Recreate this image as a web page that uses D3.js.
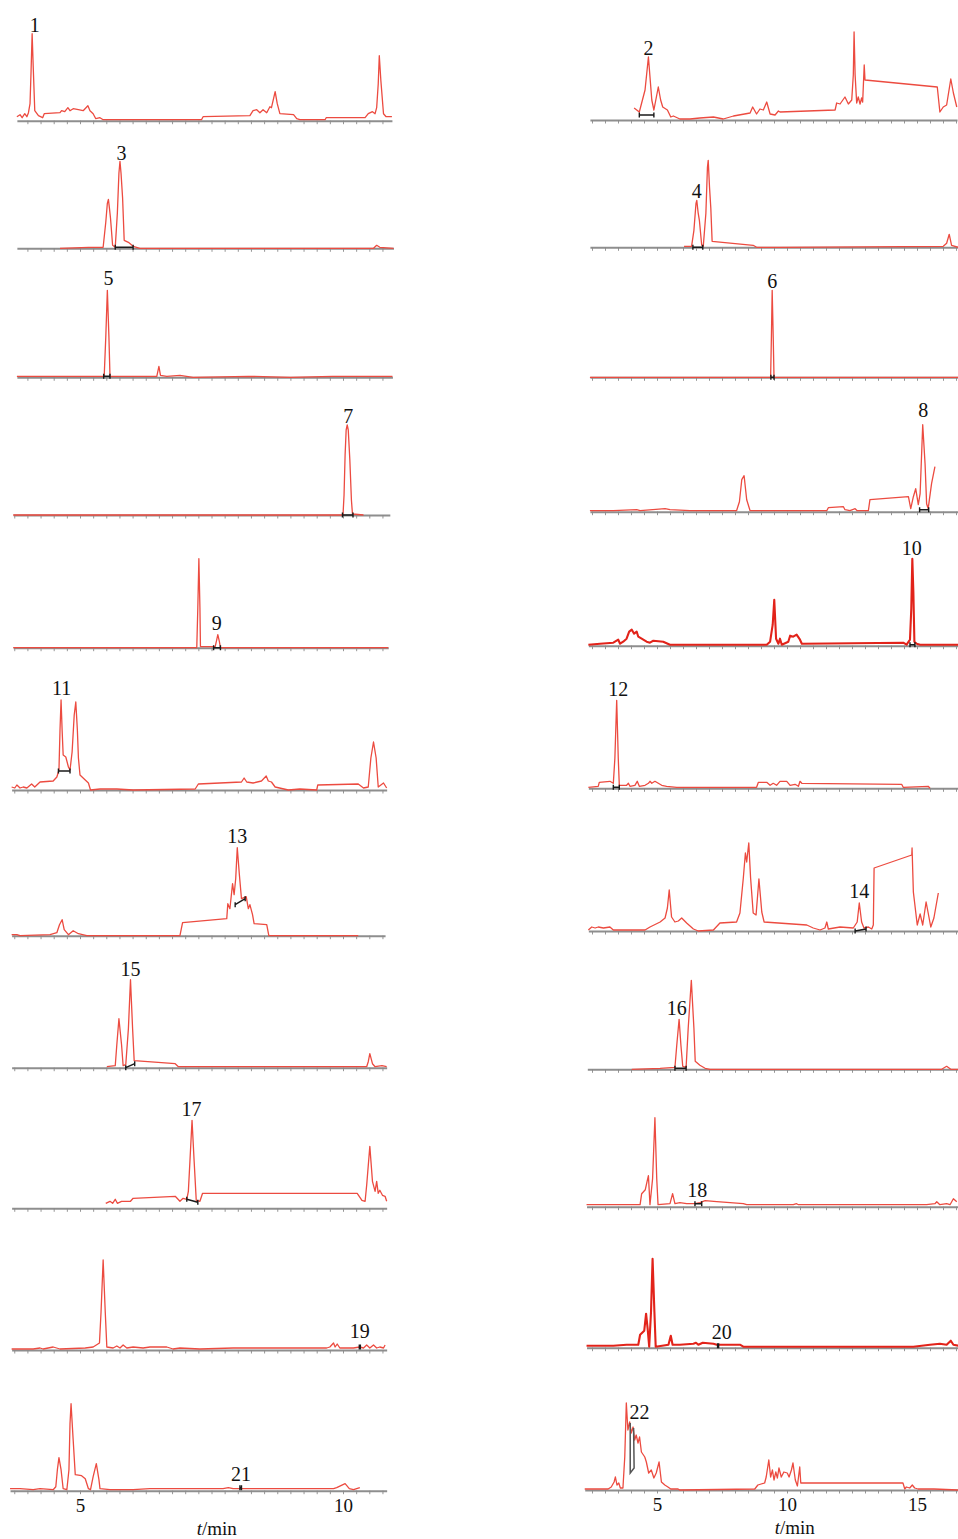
<!DOCTYPE html>
<html>
<head>
<meta charset="utf-8">
<script src="https://cdn.jsdelivr.net/npm/d3@7"></script>
<style>
  body { margin: 0; background: #fff; }
  svg { display: block; }
  text { font-family: "Liberation Serif", "DejaVu Serif", serif; fill: #111; }
</style>
</head>
<body>
<svg id="chart"></svg>
<script>
// chromatogram traces: [retention time (min), relative response]
var trace1 = [[3.80,4],[3.86,6],[3.90,3],[3.95,7],[3.99,4],[4.02,8],[4.05,17],[4.07,50],[4.09,87],[4.11,55],[4.14,10],[4.21,5],[4.29,3],[4.32,7],[4.62,8],[4.65,10],[4.71,9],[4.77,13],[4.81,10],[4.87,12],[4.97,11],[5.06,10],[5.15,15],[5.19,10],[5.25,7],[5.30,2],[5.38,3],[5.44,1],[7.31,1],[7.34,4],[8.23,5],[8.29,10],[8.36,11],[8.42,8],[8.48,11],[8.55,8],[8.61,14],[8.64,13],[8.71,29],[8.75,17],[8.80,7],[9.06,6],[9.12,2],[9.18,1],[9.66,1],[9.68,3],[10.42,3],[10.48,7],[10.56,9],[10.61,7],[10.64,13],[10.67,37],[10.69,65],[10.72,40],[10.77,7],[10.82,4],[10.93,4]];
var trace2 = [[4.12,12],[4.32,8],[4.54,30],[4.67,63],[4.80,20],[4.88,10],[5.05,33],[5.14,20],[5.22,13],[5.40,10],[5.53,3],[5.63,4],[5.88,1],[6.27,1],[6.65,2],[7.17,3],[7.55,1],[7.94,4],[8.58,7],[8.68,13],[8.83,6],[8.96,11],[9.09,10],[9.22,18],[9.35,6],[9.54,5],[9.67,9],[9.73,8],[11.85,10],[11.91,17],[12.04,16],[12.23,23],[12.36,16],[12.49,20],[12.55,45],[12.58,88],[12.62,45],[12.68,17],[12.74,23],[12.81,16],[12.87,22],[12.91,18],[12.97,55],[13.00,40],[15.78,33],[15.88,8],[16.01,13],[16.14,15],[16.30,41],[16.40,27],[16.53,13]];
var trace3 = [[4.62,0],[5.16,1],[5.44,1],[5.49,26],[5.52,45],[5.54,49],[5.56,40],[5.58,30],[5.62,3],[5.67,1],[5.71,35],[5.74,75],[5.76,87],[5.78,75],[5.81,50],[5.84,8],[5.92,6],[6.01,2],[6.14,0],[10.58,0],[10.64,3],[10.70,1],[10.96,0]];
var trace4 = [[6.04,1],[6.33,1],[6.42,17],[6.50,44],[6.53,47],[6.58,35],[6.63,27],[6.72,2],[6.78,1],[6.88,34],[6.94,80],[6.97,87],[7.02,60],[7.07,39],[7.12,6],[8.70,2],[8.83,0],[9.73,0],[16.01,1],[16.14,4],[16.24,13],[16.33,2],[16.58,0]];
var trace5 = [[3.80,1],[4.30,1],[4.80,1],[5.20,1],[5.46,1],[5.49,40],[5.52,87],[5.55,40],[5.57,1],[6.46,1],[6.50,11],[6.53,2],[6.65,1],[6.90,2],[7.15,0],[8.20,1],[9.00,0],[9.80,1],[10.50,1],[10.94,1]];
var trace6 = [[2.42,0],[9.37,0],[9.40,40],[9.43,87],[9.47,40],[9.50,0],[16.58,0]];
var trace7 = [[3.73,0],[10.00,0],[10.02,20],[10.04,60],[10.06,85],[10.08,90],[10.10,85],[10.13,55],[10.16,15],[10.18,1],[10.39,0]];
var trace8 = [[2.42,1],[3.32,1],[4.22,2],[4.35,1],[5.31,3],[5.50,2],[6.27,1],[8.06,1],[8.17,10],[8.26,32],[8.35,36],[8.45,12],[8.58,1],[11.53,1],[11.59,4],[12.17,5],[12.23,2],[12.42,1],[12.62,3],[12.70,1],[13.13,1],[13.19,12],[14.67,15],[14.76,3],[14.86,15],[14.95,23],[15.05,7],[15.12,18],[15.22,87],[15.31,48],[15.37,8],[15.43,3],[15.56,28],[15.69,45]];
var trace9 = [[3.73,0],[7.22,0],[7.24,40],[7.26,89],[7.28,40],[7.29,1],[7.57,1],[7.60,8],[7.62,13],[7.65,6],[7.67,0],[10.86,0]];
var trace10 = [[2.36,1],[2.81,2],[3.32,3],[3.51,6],[3.58,2],[3.70,4],[3.83,7],[3.93,14],[4.03,16],[4.12,12],[4.22,14],[4.28,9],[4.41,7],[4.60,4],[4.73,3],[4.86,5],[5.24,4],[5.50,1],[5.88,1],[7.17,1],[9.22,1],[9.35,4],[9.45,21],[9.51,46],[9.58,7],[9.67,2],[9.73,7],[9.80,1],[10.05,4],[10.12,10],[10.24,9],[10.37,11],[10.50,6],[10.57,2],[14.47,3],[14.60,1],[14.73,6],[14.78,37],[14.82,87],[14.86,54],[14.90,4],[14.99,2],[15.12,1],[16.59,1]];
var trace11 = [[3.70,3],[3.76,2],[3.80,5],[3.86,2],[3.92,3],[3.99,2],[4.08,6],[4.14,3],[4.24,8],[4.49,9],[4.56,13],[4.60,20],[4.62,60],[4.64,90],[4.66,60],[4.68,35],[4.73,33],[4.78,23],[4.81,20],[4.85,38],[4.89,75],[4.92,88],[4.95,60],[4.97,32],[5.00,15],[5.10,10],[5.16,7],[5.20,0],[5.38,1],[5.70,1],[6.01,0],[7.19,1],[7.25,6],[8.07,8],[8.12,12],[8.17,8],[8.29,7],[8.45,9],[8.54,14],[8.58,9],[8.64,8],[8.71,3],[8.96,0],[9.18,1],[9.50,0],[9.52,5],[10.29,6],[10.39,2],[10.48,3],[10.53,32],[10.58,48],[10.63,32],[10.67,3],[10.77,7],[10.83,2]];
var trace12 = [[2.36,1],[2.74,2],[2.78,6],[3.19,7],[3.32,5],[3.38,30],[3.45,88],[3.51,30],[3.55,3],[3.64,3],[3.83,3],[3.90,5],[3.96,2],[4.15,3],[4.24,7],[4.32,2],[4.54,3],[4.67,5],[4.73,7],[4.80,5],[4.92,7],[5.05,5],[5.18,3],[5.37,2],[5.76,1],[8.83,1],[8.90,6],[9.22,6],[9.35,3],[9.47,5],[9.60,3],[9.73,7],[9.99,7],[10.12,3],[10.31,4],[10.44,2],[10.50,7],[10.57,5],[14.41,4],[14.47,1],[15.43,2],[15.50,0]];
var trace13 = [[3.70,1],[3.80,1],[3.86,0],[4.43,1],[4.56,3],[4.61,11],[4.66,16],[4.70,6],[4.78,1],[4.87,5],[4.97,2],[5.05,1],[5.13,0],[6.90,0],[6.95,13],[7.79,17],[7.81,32],[7.85,27],[7.90,52],[7.93,41],[7.96,57],[7.99,88],[8.03,61],[8.07,37],[8.16,39],[8.20,27],[8.23,31],[8.28,21],[8.31,12],[8.55,11],[8.59,0],[10.29,0]];
var trace14 = [[2.36,1],[2.49,4],[2.62,3],[2.74,4],[2.94,3],[3.19,4],[3.32,1],[3.83,1],[4.54,1],[4.73,4],[5.12,9],[5.31,13],[5.40,23],[5.47,41],[5.56,14],[5.69,9],[5.82,10],[5.95,13],[6.14,8],[6.40,2],[6.59,0],[7.17,1],[7.42,8],[8.06,9],[8.19,18],[8.32,53],[8.40,78],[8.45,69],[8.53,88],[8.60,53],[8.70,18],[8.81,16],[8.92,52],[9.03,19],[9.12,9],[10.76,6],[11.01,3],[11.27,1],[11.46,3],[11.53,9],[11.59,2],[12.04,4],[12.55,3],[12.70,9],[12.78,28],[12.87,9],[12.96,3],[13.13,4],[13.26,2],[13.32,6],[13.35,63],[14.80,76],[14.81,83],[14.86,39],[15.01,6],[15.12,17],[15.22,6],[15.35,29],[15.43,18],[15.53,4],[15.65,13],[15.82,38]];
var trace15 = [[5.51,1],[5.67,2],[5.70,23],[5.74,49],[5.79,23],[5.82,2],[5.87,3],[5.92,39],[5.96,88],[6.00,39],[6.03,7],[6.81,4],[6.87,1],[7.03,1],[7.28,1],[10.45,1],[10.48,6],[10.51,14],[10.56,4],[10.61,1],[10.74,2],[10.83,1]];
var trace16 = [[4.03,0],[5.12,1],[5.69,2],[5.76,24],[5.85,50],[5.92,24],[5.99,3],[6.12,2],[6.20,41],[6.32,89],[6.42,41],[6.47,8],[6.65,4],[6.85,1],[7.04,0],[15.95,0],[16.14,3],[16.30,0],[16.59,0]];
var trace17 = [[5.49,5],[5.57,7],[5.62,5],[5.67,9],[5.71,5],[5.79,7],[5.89,7],[5.96,7],[6.01,10],[6.81,12],[6.90,7],[6.96,10],[7.03,9],[7.06,17],[7.09,47],[7.13,88],[7.17,47],[7.21,8],[7.28,7],[7.33,15],[10.27,15],[10.36,8],[10.42,7],[10.45,23],[10.51,62],[10.56,27],[10.61,17],[10.64,27],[10.67,15],[10.70,18],[10.75,13],[10.80,12],[10.83,7]];
var trace18 = [[2.29,2],[2.81,2],[3.32,2],[3.83,2],[4.35,2],[4.41,13],[4.55,17],[4.60,23],[4.67,31],[4.73,2],[4.83,28],[4.92,89],[4.99,28],[5.04,2],[5.50,3],[5.60,13],[5.69,3],[5.88,4],[6.14,3],[6.46,3],[6.65,4],[6.85,6],[7.30,5],[8.32,3],[8.45,2],[10.24,2],[10.37,3],[10.44,2],[14.86,2],[15.37,2],[15.69,3],[15.76,5],[15.88,2],[16.14,3],[16.27,2],[16.40,8],[16.53,5]];
var trace19 = [[3.70,1],[4.11,1],[4.24,2],[4.30,1],[4.49,3],[4.62,1],[5.10,2],[5.25,3],[5.37,7],[5.40,38],[5.44,90],[5.48,38],[5.51,3],[5.63,2],[5.70,4],[5.76,2],[5.82,5],[5.89,2],[6.01,3],[6.20,2],[6.33,3],[6.65,3],[6.77,1],[6.90,2],[7.28,1],[7.91,2],[9.69,2],[9.75,3],[9.82,7],[9.85,3],[9.89,6],[9.94,2],[10.20,2],[10.32,3],[10.39,2],[10.45,5],[10.51,2],[10.58,5],[10.64,2],[10.70,3],[10.77,2],[10.80,5]];
var trace20 = [[2.29,2],[2.81,2],[3.32,2],[3.83,3],[4.28,3],[4.35,13],[4.51,17],[4.58,34],[4.64,19],[4.70,1],[4.77,36],[4.83,89],[4.90,36],[4.95,1],[5.44,3],[5.53,12],[5.60,3],[5.88,3],[6.40,4],[6.50,5],[6.59,3],[6.76,5],[7.17,4],[7.30,3],[8.19,3],[8.32,1],[9.73,1],[14.86,1],[15.50,3],[15.88,4],[16.14,3],[16.30,7],[16.40,3],[16.59,2]];
var trace21 = [[3.67,2],[3.86,2],[4.11,1],[4.24,2],[4.49,1],[4.54,4],[4.57,21],[4.60,33],[4.64,21],[4.68,2],[4.75,1],[4.79,21],[4.81,67],[4.83,87],[4.87,51],[4.91,16],[5.03,15],[5.10,12],[5.16,2],[5.20,1],[5.25,14],[5.31,27],[5.36,11],[5.38,2],[5.57,1],[6.01,1],[6.33,2],[7.28,2],[7.72,2],[7.82,3],[7.91,2],[9.82,2],[9.88,3],[10.04,7],[10.12,2],[10.20,1],[10.32,3]];
var trace22 = [[2.22,1],[3.12,1],[3.24,3],[3.35,8],[3.40,13],[3.46,5],[3.53,7],[3.59,2],[3.69,2],[3.76,33],[3.82,87],[3.88,60],[3.95,68],[4.01,57],[4.08,63],[4.14,50],[4.20,55],[4.27,47],[4.33,53],[4.40,38],[4.53,33],[4.59,28],[4.68,17],[4.78,20],[4.88,12],[4.97,17],[5.08,28],[5.17,8],[5.30,5],[5.42,3],[5.53,1],[5.81,1],[5.87,0],[8.76,1],[8.88,5],[9.14,7],[9.20,13],[9.30,30],[9.37,13],[9.44,20],[9.50,10],[9.57,18],[9.63,12],[9.69,22],[9.78,13],[9.88,18],[10.01,17],[10.08,13],[10.17,20],[10.23,27],[10.32,10],[10.40,4],[10.49,23],[10.53,7],[14.46,7],[14.53,1],[14.59,3],[14.72,2],[14.82,5],[14.91,2],[15.04,1],[15.42,1],[15.65,1],[16.58,0]];

// time span of each panel's time axis (min)
var axisFrom = [3.80,2.42,3.80,2.42,3.80,2.42,3.73,2.42,3.73,2.36,3.70,2.36,3.70,2.36,3.70,2.32,3.70,2.29,3.70,2.29,3.67,2.22];
var axisTo   = [10.93,16.54,10.96,16.58,10.94,16.58,10.89,16.58,10.86,16.58,10.83,16.58,10.80,16.58,10.83,16.58,10.83,16.58,10.83,16.58,10.83,16.58];

// peak numbers: time and response level of the label
var labelText   = ["1","2","3","4","5","6","7","8","9","10","11","12","13","14","15","16","17","18","19","20","21","22"];
var labelTime   = [4.14,4.67,5.79,6.53,5.54,9.43,10.10,15.24,7.60,14.80,4.65,3.51,7.99,12.78,5.96,5.76,7.12,6.55,10.32,7.49,8.06,4.33];
var labelHeight = [89,65,88,49,92,89,92,95,18,91,95,92,93,33,92,54,92,10,12,9,10,71];

// integration marks (start / end of the integrated peak)
var markT0 = [null,4.32,5.67,6.38,5.45,9.38,9.99,15.10,7.54,14.73,4.59,3.32,7.95,12.62,5.87,5.69,7.03,6.46,10.31,7.33,8.04,null];
var markH0 = [null,5,1,0,1,0,0,2,0,1,19,1,31,0,0,1,9,3,3,2,3,null];
var markT1 = [null,4.88,6.01,6.76,5.57,9.50,10.19,15.45,7.67,14.92,4.81,3.55,8.14,13.04,6.04,6.12,7.24,6.72,10.33,7.37,8.07,null];
var markH1 = [null,5,1,0,1,0,0,2,0,1,19,1,37,2,4,1,6,3,3,2,3,null];
var mark22 = [[3.97,67],[3.97,17],[4.12,22],[4.10,62]];

// bottom time axis
var leftTickLabels = [5, 10];
var rightTickLabels = [5, 10, 15];
var axisTitleTime = [7.6, 10.3];

const traces = [trace1,trace2,trace3,trace4,trace5,trace6,trace7,trace8,trace9,trace10,trace11,
                trace12,trace13,trace14,trace15,trace16,trace17,trace18,trace19,trace20,trace21,trace22];

// layout
const svgWidth = 958, svgHeight = 1539;
const leftX = d3.scaleLinear().domain([5, 10]).range([80, 343]);
const rightX = d3.scaleLinear().domain([5, 15]).range([657, 917]);
const leftBase = [120.7, 248.3, 377.3, 515, 647.7, 790, 935.7, 1067.7, 1208.3, 1350, 1490.7];
const rightBase = [120, 247.3, 377.3, 511.7, 645.7, 788.3, 931, 1069.3, 1206.7, 1347.7, 1490];
const thickPanels = [10, 20];

const chart = d3.select('#chart')
    .attr('width', svgWidth)
    .attr('height', svgHeight);

chart.append('rect').attr('width', svgWidth).attr('height', svgHeight).attr('fill', '#fff');

traces.forEach(function(data, i) {
    var id = i + 1,
        isLeft = id % 2 === 1,
        row = Math.floor(i / 2),
        base = isLeft ? leftBase[row] : rightBase[row],
        col = isLeft ? leftX : rightX,
        step = isLeft ? 0.25 : 0.5;

    var x = col.copy()
        .domain([axisFrom[i], axisTo[i]])
        .range([col(axisFrom[i]), col(axisTo[i])]);
    var y = d3.scaleLinear().domain([0, 100]).range([base, base - 100]);

    var g = chart.append('g').attr('class', 'panel-' + id);

    // grey time axis with minor ticks
    var ticks = d3.range(Math.ceil(axisFrom[i] / step) * step, axisTo[i] + 1e-9, step);
    var ax = g.append('g')
        .attr('transform', 'translate(0,' + base + ')')
        .call(d3.axisBottom(x).tickValues(ticks).tickSize(3.5).tickSizeOuter(0).tickFormat(''));
    ax.select('.domain').attr('stroke', '#8e8e8e').attr('stroke-width', 2);
    ax.selectAll('.tick line').attr('stroke', '#8a8a8a').attr('stroke-width', 0.9);

    // trace
    var thick = thickPanels.indexOf(id) >= 0;
    var valueline = d3.line()
        .x(function(d) { return x(d[0]); })
        .y(function(d) { return y(d[1]); })
        .curve(d3.curveLinear);
    g.append('path')
        .datum(data)
        .attr('fill', 'none')
        .attr('stroke', thick ? '#e2231a' : '#ec4b40')
        .attr('stroke-width', thick ? 2.1 : 1.3)
        .attr('stroke-linejoin', 'round')
        .attr('d', valueline);

    // integration mark
    if (markT0[i] !== null) {
        var x0 = x(markT0[i]), y0 = y(markH0[i]), x1 = x(markT1[i]), y1 = y(markH1[i]);
        var m = d3.path();
        m.moveTo(x0, y0); m.lineTo(x1, y1);
        m.moveTo(x0, y0 - 2.5); m.lineTo(x0, y0 + 2.5);
        m.moveTo(x1, y1 - 2.5); m.lineTo(x1, y1 + 2.5);
        g.append('path').attr('d', m.toString())
            .attr('fill', 'none').attr('stroke', '#1a1a1a').attr('stroke-width', 1.4);
    }
    if (id === 22) {
        g.append('path')
            .datum(mark22)
            .attr('fill', 'none')
            .attr('stroke', '#555')
            .attr('stroke-width', 1.5)
            .attr('d', d3.line().x(function(d) { return x(d[0]); }).y(function(d) { return y(d[1]); }));
    }

    // peak number
    g.append('text')
        .attr('x', x(labelTime[i]))
        .attr('y', y(labelHeight[i]))
        .attr('text-anchor', 'middle')
        .style('font-size', '20px')
        .text(labelText[i]);

    // tick labels and title under the last row
    if (row === 10) {
        var lab = g.append('g')
            .attr('transform', 'translate(0,' + base + ')')
            .call(d3.axisBottom(col).tickValues(isLeft ? leftTickLabels : rightTickLabels)
                .tickSize(0).tickPadding(8).tickFormat(d3.format('d')));
        lab.select('.domain').remove();
        lab.selectAll('text')
            .style('font-size', '19px')
            .style('font-family', '"Liberation Serif", serif')
            .attr('fill', '#111');

        var title = g.append('text')
            .attr('x', col(isLeft ? axisTitleTime[0] : axisTitleTime[1]))
            .attr('y', base + 44)
            .attr('text-anchor', 'middle')
            .style('font-size', '19px');
        title.append('tspan').style('font-style', 'italic').text('t');
        title.append('tspan').text('/min');
    }
});
</script>
</body>
</html>
